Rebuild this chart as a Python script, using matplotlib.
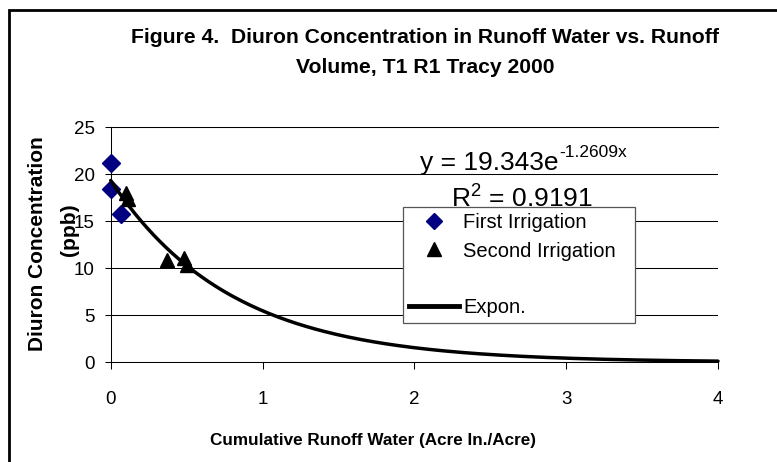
import numpy as np
import matplotlib.pyplot as plt
from matplotlib.lines import Line2D
from matplotlib.patches import Rectangle

plt.rcParams['font.family'] = ['Liberation Sans', 'DejaVu Sans']
plt.rcParams['mathtext.fontset'] = 'custom'
plt.rcParams['mathtext.rm'] = 'Liberation Sans'

# data
first_x = [0.0, 0.005, 0.066]
first_y = [21.2, 18.4, 15.8]
second_x = [0.10, 0.115, 0.37, 0.48, 0.50]
second_y = [18.0, 17.4, 10.9, 11.1, 10.4]
fit_a = 19.343
fit_b = -1.2609
fit_r2 = 0.9191
x_ticks = [0, 1, 2, 3, 4]
y_ticks = [0, 5, 10, 15, 20, 25]

W, H = 777, 462


def fx(x):
    return x / W


def fy(y):
    return 1 - y / H


fig = plt.figure(figsize=(W / 100, H / 100), dpi=100)
ax = fig.add_axes([fx(110.7), fy(362.3), fx(718 - 110.7), (362.3 - 127.3) / H])

# outer frame
fig.patches.append(Rectangle((fx(8.7), fy(480)), fx(800), (480 - 10) / H,
                             transform=fig.transFigure, fill=False,
                             edgecolor='black', linewidth=2))

ax.set_xlim(0, 4)
ax.set_ylim(0, 25)
ax.set_xticks(x_ticks)
ax.set_yticks(y_ticks)
ax.yaxis.grid(True, color='black', linewidth=0.75)
ax.set_axisbelow(True)
ax.spines['right'].set_visible(False)
for s in ['left', 'bottom', 'top']:
    ax.spines[s].set_linewidth(0.75)
ax.tick_params(axis='x', direction='out', length=5, width=0.75, pad=15.5, labelsize=13.5)
ax.tick_params(axis='y', direction='out', length=4.5, width=0.75, pad=7, labelsize=13.5)

xs = np.linspace(0, 4, 200)
ax.plot(xs, fit_a * np.exp(fit_b * xs), color='black', linewidth=2.5,
        solid_capstyle='round', zorder=4, clip_on=False)
ax.plot(first_x, first_y, linestyle='none', marker='D', markersize=9,
        color='#000080', clip_on=False, zorder=3)
ax.plot(second_x, second_y, linestyle='none', marker='^', markersize=10.5,
        color='black', clip_on=False, zorder=3)

# trendline equation (sits behind the legend)
eq = ax.text(fx(420), fy(170), 'y = %.3fe' % fit_a,
             transform=fig.transFigure, ha='left', va='baseline', fontsize=19)
ax.annotate('%.4fx' % fit_b, xy=(1, 0), xycoords=eq,
            xytext=(0.3, 12.8), textcoords='offset points',
            ha='left', va='baseline', fontsize=12.5)
ax.text(fx(522), fy(207), r'R$^{\mathregular{2}}$ = %.4f' % fit_r2,
        transform=fig.transFigure, ha='center', va='baseline', fontsize=19)

handles = [
    Line2D([], [], linestyle='none', marker='D', markersize=8, color='#000080'),
    Line2D([], [], linestyle='none', marker='^', markersize=10, color='black'),
    Line2D([], [], linestyle='none'),
    Line2D([], [], color='black', linewidth=3.5),
]
labels = ['First Irrigation', 'Second Irrigation', ' ', 'Expon.']
leg = ax.legend(handles, labels, loc='upper left',
                bbox_to_anchor=(fx(403), fy(321), fx(635 - 403), (321 - 207) / H),
                bbox_transform=fig.transFigure, mode='expand', borderaxespad=0,
                fontsize=14.5, handlelength=2.5, handletextpad=0.2,
                labelspacing=0.47, borderpad=0.3,
                fancybox=False, framealpha=1, edgecolor='#555555')
leg.get_frame().set_linewidth(0.9)
leg.set_zorder(5)

# titles and axis labels
fig.text(fx(425), fy(43), 'Figure 4.  Diuron Concentration in Runoff Water vs. Runoff',
         ha='center', va='baseline', fontsize=15.2, fontweight='bold')
fig.text(fx(425), fy(73), 'Volume, T1 R1 Tracy 2000',
         ha='center', va='baseline', fontsize=15.2, fontweight='bold')
fig.text(fx(373), fy(445), 'Cumulative Runoff Water (Acre In./Acre)',
         ha='center', va='baseline', fontsize=12.3, fontweight='bold')
fig.text(fx(38), fy(244), 'Diuron Concentration', rotation=90,
         ha='center', va='center', fontsize=15, fontweight='bold')
fig.text(fx(69), fy(230), '(ppb)', rotation=90,
         ha='center', va='center', fontsize=15, fontweight='bold')

fig.savefig('out.png', dpi=100)
